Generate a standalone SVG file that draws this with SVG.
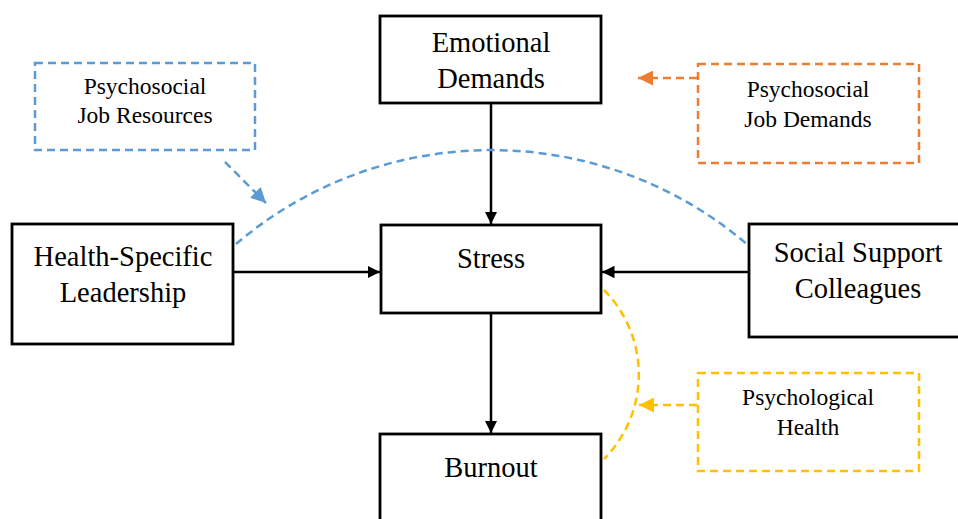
<svg xmlns="http://www.w3.org/2000/svg" width="958" height="519" viewBox="0 0 958 519">
<defs>
<style>
.box{fill:#fff;stroke:#000;stroke-width:2.8}
text{font-family:'Liberation Serif','DejaVu Serif','Times New Roman',serif;fill:#000;text-anchor:middle}
.big{font-size:28.5px}
.small{font-size:23.5px}
.conn{stroke:#000;stroke-width:2.5;fill:none}
.dash{stroke-width:2.5;fill:none;stroke-dasharray:8 5}
.blue{stroke:#5B9BD5}
.orange{stroke:#ED7D31}
.yellow{stroke:#FFC000}
</style>
<marker id="ah" viewBox="0 0 10 10" refX="10" refY="5" markerWidth="5" markerHeight="5" markerUnits="strokeWidth" orient="auto"><path d="M0,0 L10,5 L0,10 z" fill="#000"/></marker>
<marker id="ahb" viewBox="0 0 10 10" refX="10" refY="5" markerWidth="6" markerHeight="6" markerUnits="strokeWidth" orient="auto"><path d="M0,0 L10,5 L0,10 z" fill="#5B9BD5"/></marker>
<marker id="aho" viewBox="0 0 10 10" refX="10" refY="5" markerWidth="6" markerHeight="6" markerUnits="strokeWidth" orient="auto"><path d="M0,0 L10,5 L0,10 z" fill="#ED7D31"/></marker>
<marker id="ahy" viewBox="0 0 10 10" refX="10" refY="5" markerWidth="6" markerHeight="6" markerUnits="strokeWidth" orient="auto"><path d="M0,0 L10,5 L0,10 z" fill="#FFC000"/></marker>
</defs>
<rect width="958" height="519" fill="#fff"/>
<g id="connectors">
<path class="conn" d="M491,104 L491,224" marker-end="url(#ah)"/>
<path class="conn" d="M234,272 L380,272" marker-end="url(#ah)"/>
<path class="conn" d="M748,272 L602,272" marker-end="url(#ah)"/>
<path class="conn" d="M491,314 L491,433" marker-end="url(#ah)"/>
<path class="dash blue" d="M236,244 A394,394 0 0 1 749,246"/>
<path class="dash blue" d="M225,162 L266,203" marker-end="url(#ahb)"/>
<path class="dash orange" d="M697,78 L638,78" marker-end="url(#aho)"/>
<path class="dash yellow" d="M604,290 A120,120 0 0 1 604,459"/>
<path class="dash yellow" d="M697,405 L639,405" marker-end="url(#ahy)"/>
</g>
<g id="emotional">
<rect class="box" x="380" y="16" width="221" height="87"/>
<text class="big" x="491" y="52">Emotional</text>
<text class="big" x="491" y="88">Demands</text>
</g>
<g id="stress">
<rect class="box" x="381" y="225" width="220" height="88"/>
<text class="big" x="491" y="268">Stress</text>
</g>
<g id="burnout">
<rect class="box" x="380" y="434" width="221" height="90"/>
<text class="big" x="491" y="477">Burnout</text>
</g>
<g id="leadership">
<rect class="box" x="12" y="224" width="221" height="120"/>
<text class="big" x="123" y="266">Health-Specific</text>
<text class="big" x="123" y="302">Leadership</text>
</g>
<g id="social">
<rect class="box" x="749" y="224" width="215" height="113"/>
<text class="big" x="858" y="262">Social Support</text>
<text class="big" x="858" y="298">Colleagues</text>
</g>
<g id="resources">
<rect class="dash blue" x="35" y="63" width="220" height="87"/>
<text class="small" x="145" y="94">Psychosocial</text>
<text class="small" x="145" y="123">Job Resources</text>
</g>
<g id="demands">
<rect class="dash orange" x="698" y="64" width="221" height="99"/>
<text class="small" x="808" y="97">Psychosocial</text>
<text class="small" x="808" y="127">Job Demands</text>
</g>
<g id="health">
<rect class="dash yellow" x="698" y="373" width="221" height="98"/>
<text class="small" x="808" y="405">Psychological</text>
<text class="small" x="808" y="435">Health</text>
</g>
</svg>
